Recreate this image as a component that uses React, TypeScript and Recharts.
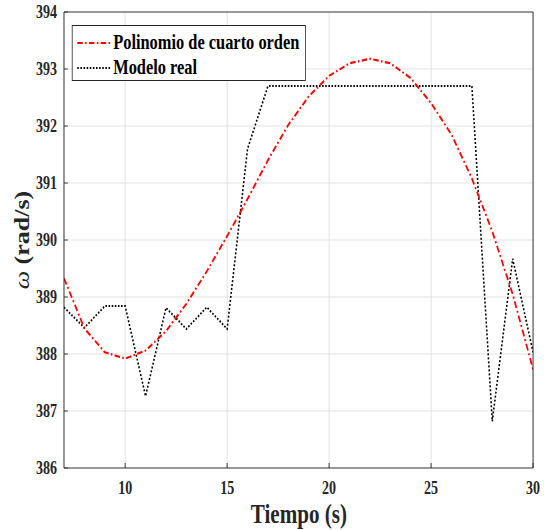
import { LineChart, Line, XAxis, YAxis, CartesianGrid } from 'recharts';

// time axis (s)
const tiempo = [7, 8, 9, 10, 11, 12, 13, 14, 15, 16, 17, 18, 19, 20, 21, 22, 23, 24, 25, 26, 27, 28, 29, 30];
// fourth order polynomial fit, rad/s
const polinomio = [
  389.33, 388.45, 388.03, 387.92, 388.06, 388.4, 388.88, 389.45, 390.07, 390.72, 391.4, 392.02,
  392.52, 392.88, 393.1, 393.18, 393.1, 392.84, 392.4, 391.85, 391.08, 390.15, 389.05, 387.73,
];
// measured model, rad/s
const modeloReal = [
  388.82, 388.46, 388.84, 388.84, 387.26, 388.81, 388.44, 388.82, 388.44, 391.6, 392.7, 392.7,
  392.7, 392.7, 392.7, 392.7, 392.7, 392.7, 392.7, 392.7, 392.7, 386.82, 389.67, 388.03,
];
const xTicks = [10, 15, 20, 25, 30];
const yTicks = [386, 387, 388, 389, 390, 391, 392, 393, 394];

const data = tiempo.map((t, i) => ({ t, poli: polinomio[i], real: modeloReal[i] }));

// the reference is squeezed horizontally, so draw wider and scale down
const W = 697;
const H = 530;
const SX = 544 / W;
const AXIS = '#262626';
const GRID = '#dedede';
const FONT = '"Liberation Serif", "Times New Roman", serif';

const tickStyle = { fontSize: 18, fontWeight: 700, fontFamily: FONT, fill: AXIS };

const XTitle = () => (
  <text x={383} y={523} textAnchor="middle" fontFamily={FONT} fontWeight={700} fontSize={27} fill={AXIS}>
    Tiempo (s)
  </text>
);

const YTitle = () => (
  <text
    x={37}
    y={240}
    transform="rotate(-90 37 240)"
    textAnchor="middle"
    fontFamily={FONT}
    fontWeight={700}
    fontSize={26}
    fill={AXIS}
  >
    <tspan fontStyle="italic" fontWeight={400}>ω</tspan> (rad/s)
  </text>
);

const legendItems = [
  { name: 'Polinomio de cuarto orden', color: '#ff0000', dash: '7 3 2 3', width: 2.2 },
  { name: 'Modelo real', color: '#000000', dash: '2 2', width: 2 },
];

const LegendBox = () => (
  <div
    style={{
      position: 'absolute',
      left: 92,
      top: 25,
      width: 300,
      height: 56,
      boxSizing: 'border-box',
      border: `1px solid ${AXIS}`,
      background: '#fff',
      fontFamily: FONT,
      fontWeight: 700,
      fontSize: 21,
      color: '#000',
    }}
  >
    {legendItems.map((it, i) => (
      <div key={it.name} style={{ position: 'absolute', left: 0, top: 4 + i * 25, height: 25, display: 'flex', alignItems: 'center' }}>
        <svg width={52} height={10} style={{ display: 'block' }}>
          <line x1={6} y1={5} x2={48} y2={5} stroke={it.color} strokeWidth={it.width} strokeDasharray={it.dash} />
        </svg>
        <span style={{ whiteSpace: 'nowrap', lineHeight: '25px' }}>{it.name}</span>
      </div>
    ))}
  </div>
);

export default function App() {
  return (
    <div style={{ position: 'absolute', left: 0, top: 0, width: 544, height: 530, overflow: 'hidden', background: '#fff' }}>
      <div style={{ position: 'relative', width: W, height: H, transform: `scaleX(${SX})`, transformOrigin: '0 0' }}>
        <LineChart width={W} height={H} data={data} margin={{ top: 0, right: 0, bottom: 0, left: 0 }}>
          <CartesianGrid stroke={GRID} strokeWidth={1} />
          <XAxis
            dataKey="t"
            type="number"
            domain={[7, 30]}
            ticks={xTicks}
            allowDataOverflow
            height={62}
            tick={tickStyle}
            tickSize={-5}
            tickMargin={18}
            stroke={AXIS}
            axisLine={{ stroke: AXIS }}
            tickLine={{ stroke: AXIS }}
            label={<XTitle />}
          />
          <XAxis
            xAxisId="top"
            orientation="top"
            dataKey="t"
            type="number"
            domain={[7, 30]}
            ticks={xTicks}
            allowDataOverflow
            height={12}
            tick={false}
            tickSize={-5}
            stroke={AXIS}
          />
          <YAxis
            type="number"
            domain={[386, 394]}
            ticks={yTicks}
            allowDataOverflow
            width={82}
            tick={tickStyle}
            tickSize={-5}
            tickMargin={14}
            stroke={AXIS}
            label={<YTitle />}
          />
          <YAxis
            yAxisId="right"
            orientation="right"
            type="number"
            domain={[386, 394]}
            ticks={yTicks}
            allowDataOverflow
            width={14}
            tick={false}
            tickSize={-5}
            stroke={AXIS}
          />
          <Line
            type="linear"
            dataKey="real"
            stroke="#000"
            strokeWidth={2}
            strokeDasharray="2 2"
            dot={false}
            isAnimationActive={false}
          />
          <Line
            type="linear"
            dataKey="poli"
            stroke="#ff0000"
            strokeWidth={2.2}
            strokeDasharray="7 3 2 3"
            dot={false}
            isAnimationActive={false}
          />
        </LineChart>
        <LegendBox />
      </div>
    </div>
  );
}
